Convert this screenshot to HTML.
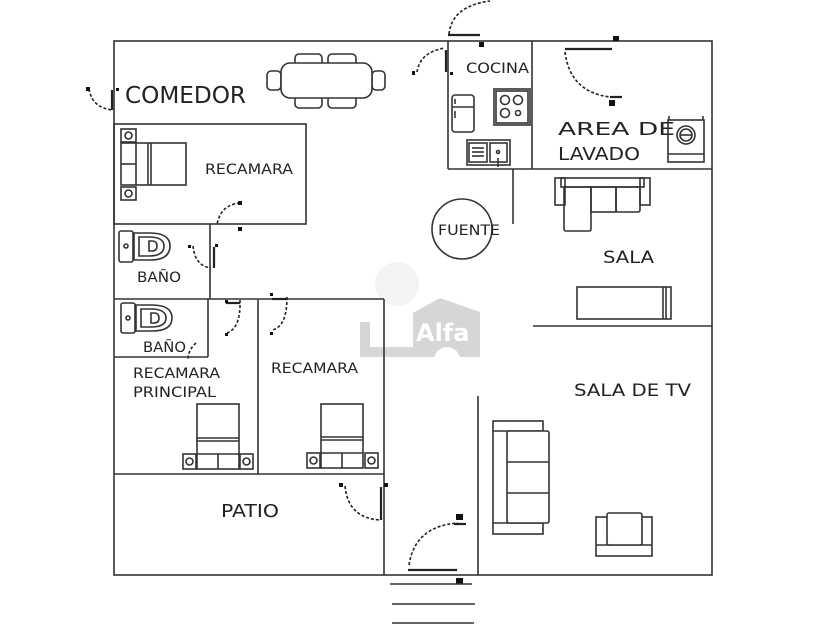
<!DOCTYPE html>
<html><head><meta charset="utf-8"><style>
html,body{margin:0;padding:0;background:#fff;}
svg{display:block;}
text{font-family:"DejaVu Sans","Liberation Sans",sans-serif;fill:#222;}
</style></head><body>
<svg width="840" height="630" viewBox="0 0 840 630" xmlns="http://www.w3.org/2000/svg">
<rect width="840" height="630" fill="#fff"/>
<!-- watermark -->
<circle cx="397" cy="284" r="22" fill="#f3f3f3"/>
<g fill="#d6d6d6">
<rect x="360" y="322" width="10" height="35"/>
<rect x="360" y="347" width="60" height="10"/>
<polygon points="413,313 440,298 480,312 480,357 413,357"/>
</g>
<circle cx="447" cy="360" r="13" fill="#fff"/>
<text x="416" y="341" font-size="24" font-weight="bold" style="fill:#fff" font-family="Liberation Sans,sans-serif">Alfa</text>

<g stroke="#333" stroke-width="1.6" fill="none">
<!-- outer walls -->
<rect x="114" y="41" width="598" height="534"/>
<!-- recamara top -->
<rect x="114" y="124" width="192" height="100"/>
<line x1="210" y1="224" x2="210" y2="299"/>
<line x1="114" y1="299" x2="384" y2="299"/>
<line x1="208" y1="299" x2="208" y2="357"/>
<line x1="114" y1="357" x2="208" y2="357"/>
<line x1="258" y1="299" x2="258" y2="474"/>
<line x1="384" y1="299" x2="384" y2="575"/>
<line x1="114" y1="474" x2="384" y2="474"/>
<line x1="478" y1="396" x2="478" y2="575"/>
<!-- kitchen -->
<line x1="448" y1="41" x2="448" y2="169"/>
<line x1="532" y1="41" x2="532" y2="169"/>
<line x1="448" y1="169" x2="712" y2="169"/>
<line x1="513" y1="169" x2="513" y2="224"/>
<line x1="533" y1="326" x2="712" y2="326"/>
</g>

<!-- doors -->
<g stroke="#222" stroke-width="1.6" fill="none" stroke-dasharray="3,2">
<path d="M89,89 Q92,108 113,110"/>
<path d="M240,203 Q220,205 217,225"/>
<path d="M417,72 Q420,52 445,48"/>
<path d="M449,34 Q452,6 490,1"/>
<path d="M565,52 Q570,92 610,97"/>
<path d="M193,246 Q195,266 211,268"/>
<path d="M240,300 Q241,328 227,333"/>
<path d="M287,297 Q287,327 272,330"/>
<path d="M196,343 Q188,350 188,360"/>
<path d="M345,486 Q348,518 380,520"/>
<path d="M409,565 Q415,526 458,523"/>
</g>
<g stroke="#222" stroke-width="2.2">
<line x1="112" y1="90" x2="112" y2="110"/>
<line x1="446" y1="50" x2="446" y2="72"/>
<line x1="448" y1="35" x2="480" y2="35"/>
<line x1="565" y1="49" x2="612" y2="49"/>
<line x1="610" y1="97" x2="622" y2="97"/>
<line x1="381" y1="487" x2="381" y2="520"/>
<line x1="408" y1="570" x2="457" y2="570"/>
<line x1="454" y1="524" x2="466" y2="524"/>
<line x1="214" y1="247" x2="214" y2="268"/>
<line x1="226" y1="303" x2="240" y2="303"/>
<line x1="272" y1="299" x2="287" y2="299"/>
</g>
<g fill="#111">
<rect x="86" y="87" width="4" height="4"/>
<rect x="116" y="88" width="3" height="3"/>
<rect x="238" y="201" width="4" height="4"/>
<rect x="238" y="227" width="4" height="4"/>
<rect x="412" y="71" width="3" height="4"/>
<rect x="450" y="72" width="3" height="3"/>
<rect x="479" y="42" width="5" height="5"/>
<rect x="613" y="36" width="6" height="5"/>
<rect x="609" y="100" width="6" height="6"/>
<rect x="339" y="483" width="4" height="4"/>
<rect x="384" y="483" width="4" height="4"/>
<rect x="456" y="514" width="7" height="6"/>
<rect x="456" y="578" width="7" height="6"/>
<rect x="188" y="245" width="3" height="3"/>
<rect x="215" y="244" width="3" height="3"/>
<rect x="225" y="300" width="3" height="3"/>
<rect x="225" y="333" width="3" height="3"/>
<rect x="270" y="293" width="3" height="3"/>
<rect x="270" y="332" width="3" height="3"/>
</g>
<!-- steps -->
<g stroke="#333" stroke-width="1.6">
<line x1="390" y1="584" x2="472" y2="584"/>
<line x1="392" y1="604" x2="475" y2="604"/>
<line x1="392" y1="623" x2="474" y2="623"/>
</g>

<!-- furniture -->
<g stroke="#333" stroke-width="1.6" fill="none">
<!-- dining table -->
<rect x="295" y="54" width="27" height="12" rx="4"/>
<rect x="328" y="54" width="28" height="12" rx="4"/>
<rect x="295" y="96" width="27" height="12" rx="4"/>
<rect x="328" y="96" width="28" height="12" rx="4"/>
<rect x="267" y="71" width="14" height="19" rx="4"/>
<rect x="372" y="71" width="13" height="19" rx="4"/>
<rect x="281" y="63" width="91" height="35" rx="9" fill="#fff"/>
<!-- top recamara bed -->
<rect x="121" y="143" width="65" height="42"/>
<line x1="136" y1="143" x2="136" y2="185"/>
<line x1="121" y1="164" x2="136" y2="164"/>
<line x1="148" y1="143" x2="148" y2="185"/>
<line x1="151" y1="143" x2="151" y2="185"/>
<rect x="121" y="129" width="15" height="13"/>
<circle cx="128.5" cy="135.5" r="3.5"/>
<rect x="121" y="187" width="15" height="13"/>
<circle cx="128.5" cy="193.5" r="3.5"/>
<!-- toilets -->
<rect x="119" y="231" width="14" height="31" rx="2"/>
<circle cx="126" cy="246" r="2"/>
<path d="M134,233 L150,233 Q170,233 170,246 Q170,260 150,260 L134,260 Z"/>
<path d="M139,237 L149,237 Q164,237 164,246 Q164,256 149,256 L139,256 Z"/>
<path d="M149,241 L152,241 Q157,241 157,246 Q157,251 152,251 L149,251 Z"/>
<rect x="121" y="303" width="14" height="30" rx="2"/>
<circle cx="128" cy="318" r="2"/>
<path d="M136,305 L152,305 Q172,305 172,318 Q172,331 152,331 L136,331 Z"/>
<path d="M141,309 L151,309 Q166,309 166,318 Q166,327 151,327 L141,327 Z"/>
<path d="M151,313 L154,313 Q159,313 159,318 Q159,323 154,323 L151,323 Z"/>
<!-- bed principal -->
<rect x="197" y="404" width="42" height="65"/>
<line x1="197" y1="438" x2="239" y2="438"/>
<line x1="197" y1="441" x2="239" y2="441"/>
<line x1="197" y1="454" x2="239" y2="454"/>
<line x1="218" y1="454" x2="218" y2="469"/>
<rect x="183" y="454" width="13" height="15"/>
<circle cx="189.5" cy="461.5" r="3.5"/>
<rect x="240" y="454" width="13" height="15"/>
<circle cx="246.5" cy="461.5" r="3.5"/>
<!-- bed 2 -->
<rect x="321" y="404" width="42" height="64"/>
<line x1="321" y1="437" x2="363" y2="437"/>
<line x1="321" y1="440" x2="363" y2="440"/>
<line x1="321" y1="453" x2="363" y2="453"/>
<line x1="342" y1="453" x2="342" y2="468"/>
<rect x="307" y="453" width="13" height="15"/>
<circle cx="313.5" cy="460.5" r="3.5"/>
<rect x="365" y="453" width="13" height="15"/>
<circle cx="371.5" cy="460.5" r="3.5"/>
<!-- fuente -->
<circle cx="462" cy="229" r="30"/>
<!-- kitchen fridge -->
<rect x="452" y="95" width="22" height="37" rx="3"/>
<line x1="452" y1="107" x2="474" y2="107"/>
<line x1="455" y1="99" x2="455" y2="104"/>
<line x1="455" y1="111" x2="455" y2="118"/>
<!-- stove -->
<rect x="494" y="89" width="36" height="36"/>
<rect x="496" y="91" width="32" height="32"/>
<circle cx="505" cy="100" r="4.5"/>
<circle cx="518" cy="100" r="4.5"/>
<circle cx="505" cy="113" r="4.5"/>
<circle cx="518" cy="113" r="2.5"/>
<!-- sink -->
<rect x="467" y="140" width="43" height="25"/>
<rect x="469" y="143" width="18" height="19"/>
<rect x="490" y="143" width="17" height="19"/>
<line x1="472" y1="148" x2="484" y2="148"/>
<line x1="472" y1="152" x2="484" y2="152"/>
<line x1="472" y1="156" x2="484" y2="156"/>
<circle cx="498" cy="152" r="1.5"/>
<line x1="498" y1="158" x2="498" y2="167"/>
<!-- washer -->
<rect x="668" y="120" width="36" height="42"/>
<line x1="668" y1="154" x2="704" y2="154"/>
<circle cx="686" cy="135" r="9"/>
<circle cx="686" cy="135" r="6"/>
<line x1="680" y1="135" x2="692" y2="135"/>
<line x1="669" y1="116" x2="669" y2="120"/>
<line x1="703" y1="116" x2="703" y2="120"/>
<!-- L sofa sala -->
<rect x="555" y="178" width="10" height="27"/>
<rect x="640" y="178" width="10" height="27"/>
<rect x="561" y="178" width="83" height="9"/>
<rect x="564" y="187" width="27" height="44" rx="2"/>
<rect x="591" y="187" width="25" height="25"/>
<rect x="616" y="187" width="24" height="25" rx="2"/>
<!-- sala sofa -->
<rect x="577" y="287" width="94" height="32"/>
<line x1="663" y1="287" x2="663" y2="319"/>
<line x1="666" y1="287" x2="666" y2="319"/>
<!-- TV sofa -->
<rect x="493" y="421" width="50" height="113"/>
<line x1="493" y1="431" x2="543" y2="431"/>
<line x1="493" y1="523" x2="543" y2="523"/>
<rect x="507" y="431" width="42" height="92" rx="2" fill="#fff"/>
<line x1="507" y1="462" x2="549" y2="462"/>
<line x1="507" y1="493" x2="549" y2="493"/>
<!-- armchair -->
<rect x="596" y="517" width="56" height="39"/>
<line x1="596" y1="545" x2="652" y2="545"/>
<rect x="607" y="513" width="35" height="32" rx="2" fill="#fff"/>
</g>

<!-- labels -->
<text x="125" y="103" font-size="23" textLength="121" lengthAdjust="spacingAndGlyphs" font-family="Liberation Sans,sans-serif">COMEDOR</text>
<text x="205" y="174" font-size="14" textLength="88" lengthAdjust="spacingAndGlyphs">RECAMARA</text>
<text x="466" y="73" font-size="14" textLength="63" lengthAdjust="spacingAndGlyphs">COCINA</text>
<text x="558" y="135" font-size="18" textLength="117" lengthAdjust="spacingAndGlyphs">AREA DE</text>
<text x="558" y="160" font-size="18" textLength="82" lengthAdjust="spacingAndGlyphs">LAVADO</text>
<text x="438" y="235" font-size="14" textLength="62" lengthAdjust="spacingAndGlyphs">FUENTE</text>
<text x="603" y="263" font-size="17" textLength="51" lengthAdjust="spacingAndGlyphs">SALA</text>
<text x="137" y="282" font-size="14" textLength="44" lengthAdjust="spacingAndGlyphs">BAÑO</text>
<text x="143" y="352" font-size="14" textLength="43" lengthAdjust="spacingAndGlyphs">BAÑO</text>
<text x="133" y="378" font-size="14" textLength="87" lengthAdjust="spacingAndGlyphs">RECAMARA</text>
<text x="133" y="397" font-size="14" textLength="83" lengthAdjust="spacingAndGlyphs">PRINCIPAL</text>
<text x="271" y="373" font-size="14" textLength="87" lengthAdjust="spacingAndGlyphs">RECAMARA</text>
<text x="574" y="396" font-size="17" textLength="117" lengthAdjust="spacingAndGlyphs">SALA DE TV</text>
<text x="221" y="517" font-size="18" textLength="58" lengthAdjust="spacingAndGlyphs">PATIO</text>
</svg>
</body></html>
